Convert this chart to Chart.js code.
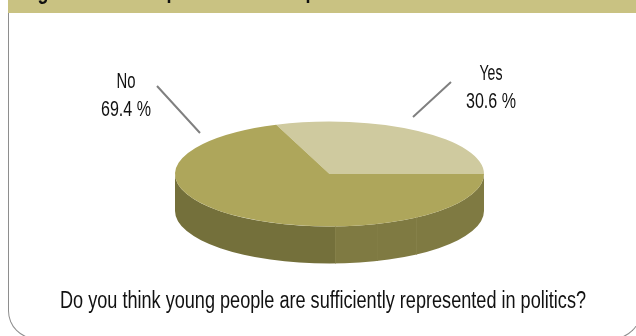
<!DOCTYPE html>
<html>
<head>
<meta charset="utf-8">
<style>
  html, body { margin: 0; padding: 0; background: #fff; }
  #wrap { position: relative; width: 636px; height: 336px; overflow: hidden; }
  #band { position: absolute; left: 8px; top: 0; width: 628px; height: 13px; background: #c9c282; }
  #frame { position: absolute; left: 8px; top: 13px; width: 633px; height: 326px; border: 1.5px solid #8e8e8e; border-top: 0; border-radius: 0 0 28px 28px; box-sizing: border-box; }
  canvas { position: absolute; left: 0; top: 0; }
</style>
</head>
<body>
<div id="wrap">
  <div id="band"></div>
  <div id="frame"></div>
  <canvas id="myChart" width="636" height="336"></canvas>
</div>
<script src="https://cdn.jsdelivr.net/npm/chart.js@4/dist/chart.umd.min.js"></script>
<script>
const categories = ['Yes', 'No'];
const shares = [30.6, 69.4];
const sliceColors = ['#cfca9f', '#aea65b'];
const question = 'Do you think young people are sufficiently represented in politics?';

const FONT = '"Liberation Sans", sans-serif';
const TILT = 0.34;
const DEPTH = 37;

function wallPath(ctx, arc, rx, ry) {
  ctx.beginPath();
  ctx.ellipse(arc.x, arc.y, rx, ry, 0, 0, Math.PI);
  ctx.lineTo(arc.x - rx, arc.y + DEPTH);
  ctx.ellipse(arc.x, arc.y + DEPTH, rx, ry, 0, Math.PI, 0, true);
  ctx.closePath();
}

const tiltedPie = {
  id: 'tiltedPie',
  beforeDatasetsDraw(chart) {
    const { ctx } = chart;
    const arc = chart.getDatasetMeta(0).data[0];
    const rx = arc.outerRadius;
    const ry = rx * TILT;
    // side wall of the disc
    ctx.save();
    const grad = ctx.createLinearGradient(arc.x - rx, 0, arc.x + rx, 0);
    grad.addColorStop(0, '#74703b');
    grad.addColorStop(0.518, '#74703b');
    grad.addColorStop(0.519, '#7f7a42');
    grad.addColorStop(1, '#7f7a42');
    ctx.fillStyle = grad;
    wallPath(ctx, arc, rx, ry);
    ctx.fill();
    ctx.clip();
    ctx.strokeStyle = '#858049';
    ctx.lineWidth = 1;
    ctx.beginPath();
    ctx.moveTo(335.5, 200); ctx.lineTo(335.5, 270);
    ctx.moveTo(416.5, 200); ctx.lineTo(416.5, 270);
    ctx.stroke();
    ctx.strokeStyle = '#827d45';
    ctx.beginPath();
    ctx.moveTo(377.5, 200); ctx.lineTo(377.5, 270);
    ctx.stroke();
    ctx.restore();
    // squash the pie itself
    ctx.save();
    ctx.translate(0, arc.y);
    ctx.scale(1, TILT);
    ctx.translate(0, -arc.y);
  },
  afterDatasetsDraw(chart) {
    chart.ctx.restore();
  },
  afterDraw(chart) {
    const { ctx } = chart;
    ctx.save();
    ctx.strokeStyle = '#808080';
    ctx.lineWidth = 2;
    ctx.beginPath();
    ctx.moveTo(157, 86); ctx.lineTo(200, 133);
    ctx.moveTo(451, 82); ctx.lineTo(413, 117);
    ctx.stroke();
    ctx.fillStyle = '#111';
    ctx.textAlign = 'center';
    ctx.textBaseline = 'alphabetic';
    ctx.font = '22px ' + FONT;
    ctx.fillText(categories[1], 126, 88, 19);
    ctx.fillText(shares[1] + ' %', 126, 116, 50);
    ctx.fillText(categories[0], 491, 80, 23);
    ctx.fillText(shares[0] + ' %', 491, 108, 50);
    ctx.font = '23px ' + FONT;
    ctx.fillText(question, 323, 308, 526);
    // bottoms of the heading letters cut off by the top edge
    ctx.font = 'bold 24px ' + FONT;
    ctx.fillText('g', 43, -1, 11);
    ctx.fillText('p', 172, -2, 11);
    ctx.fillText('p', 311, -2, 11);
    ctx.restore();
  }
};

const chart = new Chart(document.getElementById('myChart').getContext('2d'), {
  type: 'pie',
  data: {
    labels: categories,
    datasets: [{ data: shares, backgroundColor: sliceColors, borderWidth: 0, hoverOffset: 0 }],
  },
  options: {
    responsive: false,
    animation: false,
    rotation: -20.16,
    layout: { padding: { left: 175, right: 152, top: 19, bottom: 7 } },
    plugins: { legend: { display: false }, tooltip: { enabled: false } },
  },
  plugins: [tiltedPie],
});
</script>
</body>
</html>
